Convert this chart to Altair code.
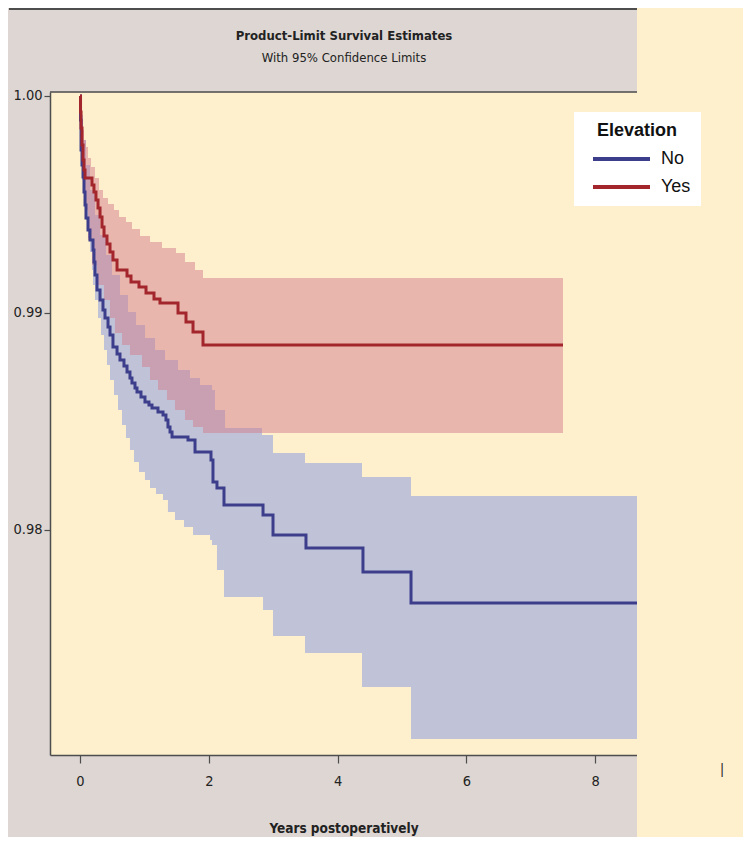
import bisect
import altair as alt
import pandas as pd

# ---- Kaplan-Meier estimates ----
groups = ["No", "Yes"]

no_t = [0, 0.008, 0.016, 0.031, 0.047, 0.062, 0.078, 0.093, 0.124, 0.155,
        0.202, 0.217, 0.233, 0.264, 0.311, 0.357, 0.388, 0.435, 0.466, 0.512,
        0.575, 0.621, 0.683, 0.730, 0.776, 0.807, 0.854, 0.885, 0.947, 1.009,
        1.071, 1.118, 1.211, 1.289, 1.335, 1.366, 1.398, 1.429, 1.677, 1.786,
        2.034, 2.065, 2.127, 2.236, 2.842, 2.997, 3.509, 4.394, 5.140, 8.649]
no_s = [1.0, 0.99889, 0.99751, 0.99682, 0.99627, 0.99558, 0.99498, 0.99438, 0.99382, 0.99336,
        0.99290, 0.99235, 0.99175, 0.99106, 0.99060, 0.99014, 0.98977, 0.98935, 0.98899, 0.98843,
        0.98811, 0.98783, 0.98756, 0.98728, 0.98700, 0.98677, 0.98654, 0.98636, 0.98613, 0.98590,
        0.98576, 0.98562, 0.98544, 0.98530, 0.98507, 0.98475, 0.98452, 0.98429, 0.98415, 0.98359,
        0.98323, 0.98221, 0.98194, 0.98115, 0.98069, 0.97977, 0.97917, 0.97806, 0.97664, 0.97664]

no_lo_t = [0, 0.008, 0.016, 0.031, 0.062, 0.093, 0.124, 0.155, 0.186, 0.202,
           0.233, 0.280, 0.326, 0.373, 0.419, 0.466, 0.528, 0.590, 0.652, 0.714,
           0.776, 0.839, 0.916, 1.009, 1.087, 1.180, 1.289, 1.366, 1.475, 1.615,
           1.755, 2.019, 2.050, 2.127, 2.236, 2.842, 2.997, 3.494, 4.379, 5.140, 8.649]
no_lo_s = [1.0, 0.99843, 0.99705, 0.99613, 0.99521, 0.99429, 0.99346, 0.99281, 0.99198, 0.99129,
           0.99060, 0.98977, 0.98899, 0.98829, 0.98760, 0.98691, 0.98622, 0.98553, 0.98484, 0.98424,
           0.98369, 0.98313, 0.98267, 0.98230, 0.98194, 0.98166, 0.98138, 0.98083, 0.98046, 0.98014,
           0.97977, 0.97954, 0.97931, 0.97816, 0.97691, 0.97631, 0.97512, 0.97433, 0.97276, 0.97037, 0.97037]

no_up_t = [0, 0.016, 0.047, 0.093, 0.155, 0.233, 0.311, 0.404, 0.497, 0.621,
           0.745, 0.870, 1.009, 1.165, 1.320, 1.522, 1.708, 1.863, 2.050, 2.096,
           2.252, 2.826, 2.997, 3.494, 4.379, 5.140, 8.649]
no_up_s = [1.0, 0.99912, 0.99797, 0.99682, 0.99567, 0.99452, 0.99359, 0.99267, 0.99175, 0.99083,
           0.99005, 0.98945, 0.98885, 0.98829, 0.98783, 0.98737, 0.98700, 0.98668, 0.98645, 0.98553,
           0.98470, 0.98438, 0.98355, 0.98309, 0.98244, 0.98157, 0.98157]

yes_t = [0, 0.008, 0.016, 0.031, 0.047, 0.062, 0.078, 0.186, 0.217, 0.248,
         0.280, 0.311, 0.342, 0.373, 0.419, 0.466, 0.512, 0.575, 0.730, 0.792,
         0.916, 1.025, 1.149, 1.242, 1.522, 1.646, 1.755, 1.910, 7.500]
yes_s = [1.0, 0.99926, 0.99853, 0.99774, 0.99705, 0.99659, 0.99622, 0.99590, 0.99558, 0.99521,
         0.99484, 0.99442, 0.99396, 0.99355, 0.99318, 0.99281, 0.99244, 0.99198, 0.99171, 0.99143,
         0.99120, 0.99092, 0.99065, 0.99046, 0.99000, 0.98959, 0.98912, 0.98853, 0.98853]

yes_up_t = [0, 0.016, 0.031, 0.047, 0.062, 0.093, 0.124, 0.171, 0.233, 0.295,
            0.357, 0.435, 0.528, 0.606, 0.714, 0.807, 0.932, 1.087, 1.273, 1.491,
            1.630, 1.786, 1.910, 7.500]
yes_up_s = [1.0, 0.99945, 0.99889, 0.99843, 0.99797, 0.99765, 0.99714, 0.99673, 0.99622, 0.99567,
            0.99530, 0.99502, 0.99475, 0.99442, 0.99419, 0.99387, 0.99355, 0.99327, 0.99300, 0.99276,
            0.99235, 0.99198, 0.99161, 0.99161]

yes_lo_t = [0, 0.016, 0.047, 0.078, 0.124, 0.186, 0.264, 0.373, 0.466, 0.543,
            0.652, 0.776, 0.963, 1.087, 1.211, 1.351, 1.475, 1.630, 1.755, 1.910, 7.500]
yes_lo_s = [1.0, 0.99797, 0.99613, 0.99475, 0.99336, 0.99221, 0.99129, 0.99060, 0.98977, 0.98908,
            0.98853, 0.98806, 0.98751, 0.98691, 0.98645, 0.98599, 0.98553, 0.98507, 0.98475, 0.98447, 0.98447]

x_ticks = [0, 2, 4, 6, 8]
y_ticks = [0.98, 0.99, 1.00]

title_text = "Product-Limit Survival Estimates"
subtitle_text = "With 95% Confidence Limits"

# ---- colours ----
GREY = "#ddd6d2"
CREAM = "#fef0cd"
BLUE_LINE = "#3c3e8c"
RED_LINE = "#a3262d"
BLUE_BAND = "#c0c3d8"
RED_BAND = "#d27c8b"
AXIS = "#4d4d4d"
NARROW = "Liberation Sans Narrow, DejaVu Sans Condensed, Liberation Sans, sans-serif"


def band(lo_t, lo_s, up_t, up_s):
    ts = sorted(set(lo_t) | set(up_t))
    rows = []
    for t in ts:
        lo = lo_s[bisect.bisect_right(lo_t, t) - 1]
        up = up_s[bisect.bisect_right(up_t, t) - 1]
        rows.append({"t": t, "lo": lo, "up": up})
    return pd.DataFrame(rows)


lines_df = pd.concat([
    pd.DataFrame({"t": no_t, "s": no_s, "Elevation": groups[0]}),
    pd.DataFrame({"t": yes_t, "s": yes_s, "Elevation": groups[1]}),
])
band_no = band(no_lo_t, no_lo_s, no_up_t, no_up_s)
band_yes = band(yes_lo_t, yes_lo_s, yes_up_t, yes_up_s)

xs = alt.Scale(domain=[-0.4658, 8.6491], nice=False, zero=False)
ys = alt.Scale(domain=[0.969631, 1.000184], nice=False, zero=False)

x_axis = alt.Axis(values=x_ticks, format="d", tickSize=8, labelPadding=11,
                  title="Years postoperatively", titlePadding=34)
y_axis = alt.Axis(values=y_ticks, format=".2f", tickSize=6, labelPadding=2)

band_no_layer = alt.Chart(band_no).mark_area(
    interpolate="step-after", color=BLUE_BAND, clip=True
).encode(
    x=alt.X("t:Q", scale=xs, axis=x_axis),
    y=alt.Y("lo:Q", scale=ys, axis=y_axis, title=None),
    y2="up:Q",
)

band_yes_layer = alt.Chart(band_yes).mark_area(
    interpolate="step-after", color=RED_BAND, opacity=0.5, clip=True
).encode(
    x=alt.X("t:Q", scale=xs),
    y=alt.Y("lo:Q", scale=ys),
    y2="up:Q",
)

line_layer = alt.Chart(lines_df).mark_line(
    interpolate="step-after", strokeWidth=3, clip=True
).encode(
    x=alt.X("t:Q", scale=xs),
    y=alt.Y("s:Q", scale=ys),
    color=alt.Color(
        "Elevation:N",
        scale=alt.Scale(domain=groups, range=[BLUE_LINE, RED_LINE]),
        legend=alt.Legend(
            title="Elevation", orient="none", legendX=524, legendY=20,
            fillColor="white", padding=10, symbolOffset=25.5,
            symbolType="M-2.85,0H2.85", symbolSize=400, symbolStrokeWidth=4,
            labelFontSize=18, titleFontSize=18, titleAnchor="middle",
            titlePadding=7, rowPadding=7, labelOffset=27.5,
            labelFont="Liberation Sans", titleFont="Liberation Sans",
            labelColor="#111", titleColor="#111",
        ),
    ),
)

dummy = pd.DataFrame({"k": [0]})
right_panel = alt.Chart(dummy).mark_rect(color=CREAM, clip=False).encode(
    x=alt.value(587), x2=alt.value(693), y=alt.value(-84), y2=alt.value(745)
)
top_frame = alt.Chart(dummy).mark_rule(color=AXIS, strokeWidth=2, clip=False).encode(
    x=alt.value(-41), x2=alt.value(587), y=alt.value(-83)
)
plot_top = alt.Chart(dummy).mark_rule(color=AXIS, strokeWidth=1.5, clip=False).encode(
    x=alt.value(0), x2=alt.value(587), y=alt.value(0)
)
title_mark = alt.Chart(dummy).mark_text(
    text=title_text, font=NARROW, fontSize=13, fontWeight="bold", color="#222",
    align="center", baseline="middle", clip=False
).encode(x=alt.value(294), y=alt.value(-56))
subtitle_mark = alt.Chart(dummy).mark_text(
    text=subtitle_text, font=NARROW, fontSize=13, color="#222",
    align="center", baseline="middle", clip=False
).encode(x=alt.value(294), y=alt.value(-34))
stray = alt.Chart(dummy).mark_text(text="|", fontSize=14, color="#333", clip=False).encode(
    x=alt.value(672), y=alt.value(678)
)

chart = alt.layer(
    right_panel, band_no_layer, band_yes_layer, line_layer,
    top_frame, plot_top, title_mark, subtitle_mark, stray
).properties(
    width=587,
    height=663,
    padding=0,
    background=GREY,
).configure_view(
    fill=CREAM, stroke="transparent"
).configure_axis(
    grid=False, domainColor=AXIS, tickColor=AXIS, domainWidth=1.5, tickWidth=1.2,
    labelFont=NARROW, labelFontSize=14.5, labelColor="#222",
    titleFont=NARROW, titleFontSize=13.5, titleFontWeight="bold", titleColor="#222",
)

chart.save("out.html", embed_options={"renderer": "svg", "actions": False})
